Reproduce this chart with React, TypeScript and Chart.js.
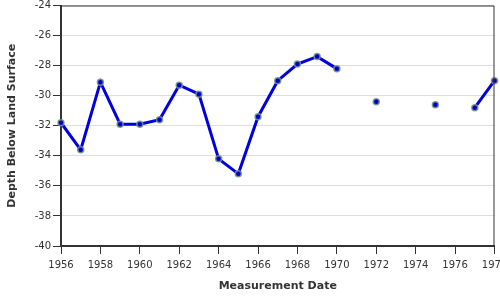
import React, { useEffect, useRef } from "react";
import { Chart, registerables } from "chart.js";

Chart.register(...registerables);

const years: number[] = [
  1956, 1957, 1958, 1959, 1960, 1961, 1962, 1963, 1964, 1965, 1966, 1967,
  1968, 1969, 1970, 1971, 1972, 1973, 1974, 1975, 1976, 1977, 1978,
];
const depths: (number | null)[] = [
  -31.8, -33.6, -29.1, -31.9, -31.9, -31.6, -29.3, -29.9, -34.2, -35.2, -31.4,
  -29.0, -27.9, -27.4, -28.2, null, -30.4, null, null, -30.6, null, -30.8, -29.0,
];
const xTickStart = 1956;
const xTickEnd = 1978;
const yTickMin = -40;
const yTickMax = -24;

const FONT = "'DejaVu Sans', Verdana, sans-serif";

const frameLines = {
  id: "frameLines",
  afterDraw(chart: any) {
    const { ctx, chartArea } = chart;
    ctx.save();
    ctx.strokeStyle = "#333";
    ctx.lineWidth = 1;
    ctx.beginPath();
    ctx.moveTo(chartArea.left, chartArea.top + 0.5);
    ctx.lineTo(chartArea.right - 0.5, chartArea.top + 0.5);
    ctx.lineTo(chartArea.right - 0.5, chartArea.bottom);
    ctx.stroke();
    ctx.restore();
  },
};

export default function App() {
  const ref = useRef<HTMLCanvasElement>(null);
  useEffect(() => {
    if (!ref.current) return;
    const chart = new Chart(ref.current, {
      type: "line",
      data: {
        datasets: [
          {
            data: years.map((x, i) => ({ x, y: depths[i] })) as any,
            borderColor: "#0000dd",
            borderWidth: 3,
            pointRadius: 3,
            pointBorderWidth: 1.5,
            pointBackgroundColor: "#0000cc",
            pointBorderColor: "rgba(120,150,130,0.85)",
            spanGaps: false,
            tension: 0,
            clip: false as any,
          },
        ],
      },
      options: {
        responsive: false,
        animation: false,
        devicePixelRatio: 1,
        layout: { padding: { left: 0, top: 4, right: 5, bottom: 0 } },
        plugins: { legend: { display: false }, tooltip: { enabled: false } },
        scales: {
          x: {
            type: "linear",
            min: xTickStart,
            max: xTickEnd,
            afterFit(scale: any) {
              scale.height = 54;
              scale.paddingLeft = 0;
              scale.paddingRight = 0;
            },
            ticks: {
              stepSize: 2,
              autoSkip: false,
              maxRotation: 0,
              padding: 5,
              color: "#333",
              font: { family: FONT, size: 10 },
              callback: (v: any) => String(v),
            },
            grid: {
              drawOnChartArea: false,
              drawTicks: true,
              tickLength: 8,
              tickColor: "#333",
            },
            border: { color: "#333", width: 2 },
            title: {
              display: true,
              text: "Measurement Date",
              color: "#333",
              font: { family: FONT, size: 11, weight: "bold" },
              padding: { top: 4, bottom: 7 },
            },
          },
          y: {
            min: yTickMin,
            max: yTickMax,
            afterFit(scale: any) {
              scale.width = 61;
              scale.paddingTop = 0;
              scale.paddingBottom = 0;
            },
            ticks: {
              stepSize: 2,
              padding: 2,
              color: "#333",
              font: { family: FONT, size: 10 },
            },
            grid: {
              color: "#dddddd",
              lineWidth: 1,
              tickLength: 8,
              tickColor: "#333",
            },
            border: { color: "#333", width: 2 },
            title: {
              display: true,
              text: "Depth Below Land Surface",
              color: "#333",
              font: { family: FONT, size: 11, weight: "bold" },
              padding: { top: 6, bottom: 4 },
            },
          },
        },
      },
      plugins: [frameLines],
    });
    return () => chart.destroy();
  }, []);
  return (
    <div
      style={{
        position: "fixed",
        left: 0,
        top: 0,
        width: 500,
        height: 300,
        overflow: "hidden",
        background: "#fff",
      }}
    >
      <canvas ref={ref} width={500} height={300} style={{ display: "block" }} />
    </div>
  );
}
